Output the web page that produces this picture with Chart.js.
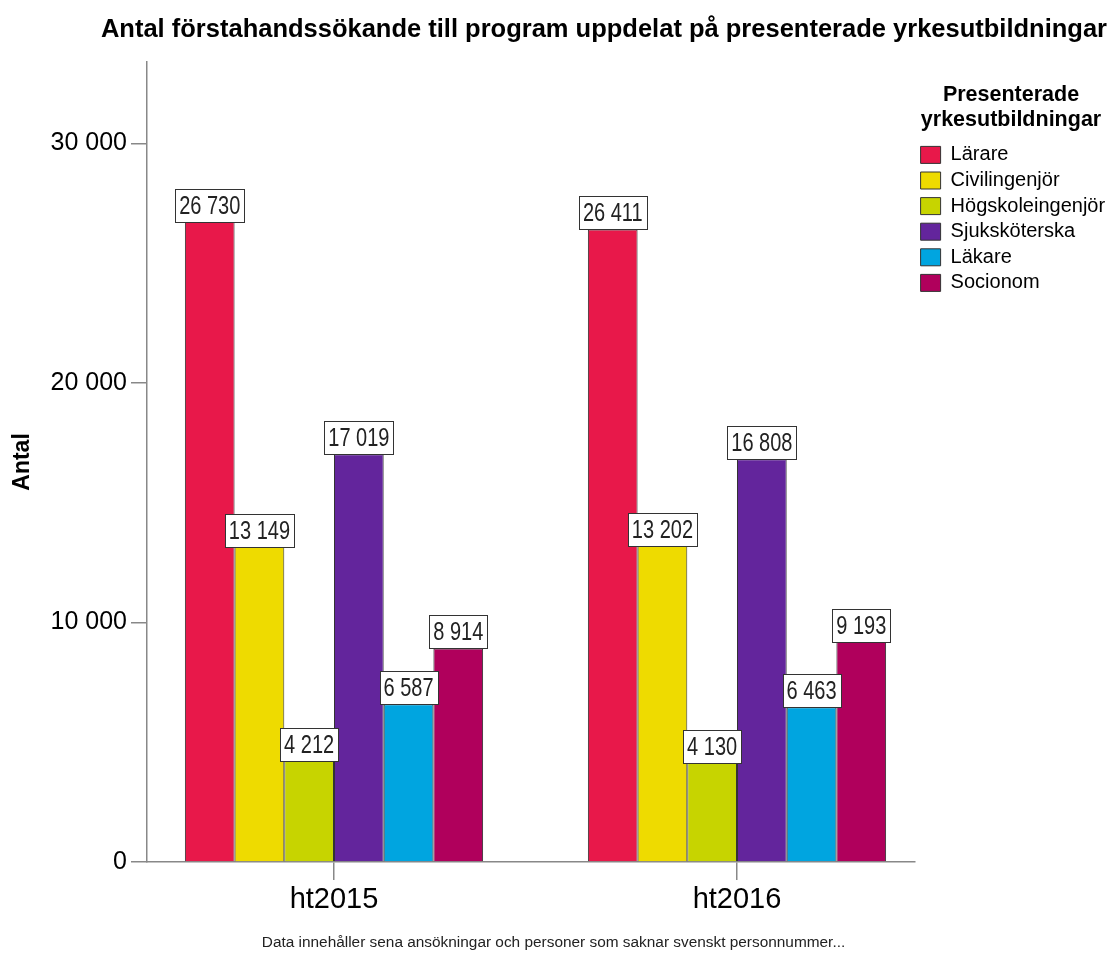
<!DOCTYPE html>
<html>
<head>
<meta charset="utf-8">
<script src="https://cdn.jsdelivr.net/npm/chart.js@4.4.1/dist/chart.umd.min.js"></script>
<style>
  html, body { margin: 0; padding: 0; background: #fff; }
</style>
</head>
<body>
<canvas id="chart" width="1113" height="957"></canvas>
<script>
const years = ["ht2015", "ht2016"];
const programs = ["Lärare", "Civilingenjör", "Högskoleingenjör", "Sjuksköterska", "Läkare", "Socionom"];
const ht2015 = [26730, 13149, 4212, 17019, 6587, 8914];
const ht2016 = [26411, 13202, 4130, 16808, 6463, 9193];
const yTicks = [0, 10000, 20000, 30000];
const colors = ["#E8184A", "#EEDB00", "#C7D400", "#63259C", "#00A5E0", "#B0005C"];

// 26730 -> "26 730"
function fmt(n) {
    return String(n).replace(/\B(?=(\d{3})+(?!\d))/g, " ");
}

Chart.defaults.font.family = "'Liberation Sans', Arial, sans-serif";
Chart.defaults.color = "#000";

// white boxed value labels above each bar
const boxLabels = {
    id: "boxLabels",
    afterDatasetsDraw(chart) {
        const ctx = chart.ctx;
        const sx = 0.8;
        ctx.save();
        ctx.font = "25px 'Liberation Sans', Arial, sans-serif";
        chart.data.datasets.forEach((ds, i) => {
            chart.getDatasetMeta(i).data.forEach((bar, j) => {
                const txt = fmt(ds.data[j].y);
                const w = Math.round(ctx.measureText(txt).width * sx + 8);
                const h = 33;
                const x = Math.round(bar.x - w / 2) + 0.5;
                const y = Math.round(bar.y - h) + 0.5;
                ctx.fillStyle = "#fff";
                ctx.fillRect(x, y, w, h);
                ctx.strokeStyle = "#333";
                ctx.lineWidth = 1;
                ctx.strokeRect(x, y, w, h);
                ctx.save();
                ctx.translate(bar.x, y + h / 2 + 1);
                ctx.scale(sx, 1);
                ctx.fillStyle = "#222";
                ctx.textAlign = "center";
                ctx.textBaseline = "middle";
                ctx.fillText(txt, 0, 0);
                ctx.restore();
            });
        });
        ctx.restore();
    }
};

const datasets = programs.map((p, i) => ({
    label: p,
    data: [{ x: 0, y: ht2015[i] }, { x: 1, y: ht2016[i] }],
    backgroundColor: colors[i],
    borderColor: "#333",
    borderWidth: 1,
    categoryPercentage: 0.74,
    barPercentage: 1.0
}));

new Chart(document.getElementById("chart"), {
    type: "bar",
    data: { datasets: datasets },
    plugins: [boxLabels],
    options: {
        responsive: false,
        animation: false,
        layout: { padding: { left: 0, right: 6, top: 0, bottom: 0 } },
        plugins: {
            title: {
                display: true,
                text: "Antal förstahandssökande till program uppdelat på presenterade yrkesutbildningar",
                align: "end",
                font: { size: 25.5, weight: "bold" },
                color: "#000",
                padding: { top: 15, bottom: 16.4 }
            },
            subtitle: {
                display: true,
                position: "bottom",
                text: "Data innehåller sena ansökningar och personer som saknar svenskt personnummer...",
                font: { size: 15.4 },
                color: "#222",
                padding: { top: 9, bottom: 5 }
            },
            legend: {
                position: "right",
                align: "start",
                fullSize: false,
                maxWidth: 192,
                title: {
                    display: true,
                    text: ["Presenterade", "yrkesutbildningar"],
                    font: { size: 21.5, weight: "bold" },
                    color: "#000",
                    padding: { top: 22, bottom: 29.5 }
                },
                labels: {
                    boxWidth: 20,
                    boxHeight: 17,
                    padding: 5.6,
                    color: "#000",
                    font: { size: 20 }
                }
            },
            tooltip: { enabled: false }
        },
        scales: {
            x: {
                type: "linear",
                offset: false,
                min: -0.464,
                max: 1.4417,
                grid: { offset: false, drawOnChartArea: false, tickLength: 18, color: "#888", lineWidth: 1.5 },
                border: { color: "#888", width: 1.5 },
                ticks: {
                    stepSize: 1,
                    includeBounds: false,
                    padding: 3,
                    color: "#000",
                    font: { size: 29 },
                    callback: v => Number.isInteger(v) ? years[v] : ""
                },
                afterFit: s => { s.height = 62.6; }
            },
            y: {
                min: 0,
                max: 33400,
                afterBuildTicks: s => { s.ticks = yTicks.map(v => ({ value: v })); },
                grid: { drawOnChartArea: false, tickLength: 16, color: "#888", lineWidth: 1.5 },
                border: { color: "#888", width: 1.5 },
                ticks: {
                    padding: 4,
                    color: "#000",
                    font: { size: 25 },
                    callback: v => fmt(v)
                },
                title: {
                    display: true,
                    text: "Antal",
                    font: { size: 23, weight: "bold" },
                    color: "#000",
                    padding: { top: 9, bottom: 0 }
                },
                afterFit: s => { s.width = 147; }
            }
        }
    }
});
</script>
</body>
</html>
